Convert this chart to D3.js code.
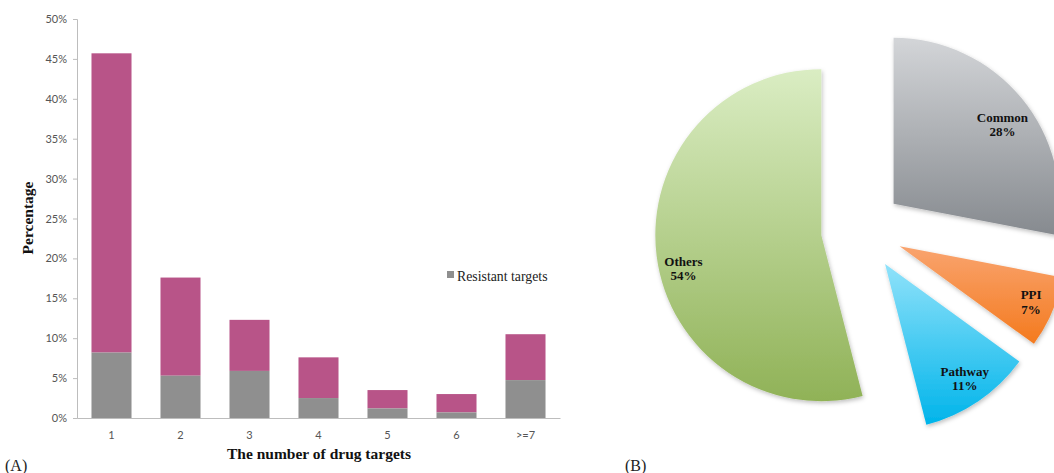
<!DOCTYPE html>
<html>
<head>
<meta charset="utf-8">
<script src="https://cdn.jsdelivr.net/npm/d3@7"></script>
<style>
  body { margin: 0; background: #fff; }
  svg { display: block; }
</style>
</head>
<body>
<script>
// bar chart data (A)
var categories = ["1", "2", "3", "4", "5", "6", ">=7"];
var totalPct = [45.7, 17.6, 12.3, 7.6, 3.5, 3.0, 10.5];
var resistantPct = [8.2, 5.3, 5.9, 2.5, 1.2, 0.7, 4.75];
var yTicks = [0, 5, 10, 15, 20, 25, 30, 35, 40, 45, 50];

// pie chart data (B)
var pieLabels = ["Common", "PPI", "Pathway", "Others"];
var pieValues = [28, 7, 11, 54];
var pieTop = ["#d3d5d8", "#f9a46f", "#90e2fa", "#daedc3"];
var pieBottom = ["#868a8f", "#f47a1e", "#00b4ea", "#90b257"];
// small nudges so data labels sit where the original put them
var labelNudge = [[1, 10], [3, 0], [1, -1], [1, 16]];

var width = 1054, height = 473;

var svg = d3.select("body").append("svg")
	.attr("width", width).attr("height", height);

var defs = svg.append("defs");

buildBars();
buildPie();

svg.append("text").attr("x", 5).attr("y", 471)
	.attr("font-family", "Liberation Serif").attr("font-size", 16)
	.attr("fill", "#222").text("(A)");
svg.append("text").attr("x", 625).attr("y", 471)
	.attr("font-family", "Liberation Serif").attr("font-size", 16)
	.attr("fill", "#222").text("(B)");

function buildBars() {
	var x = d3.scaleBand().domain(categories).range([77, 560]).paddingInner(0.42).paddingOuter(0.21);
	var y = d3.scaleLinear().domain([0, 50]).range([418, 19]);

	var g = svg.append("g");

	// y axis
	var yAxis = d3.axisLeft(y).tickValues(yTicks).tickSize(4).tickPadding(6)
		.tickFormat(function(d){ return d + "%"; });
	var ya = g.append("g").attr("transform", "translate(77,0)").call(yAxis);
	ya.select(".domain").attr("stroke", "#bdbdbd");
	ya.selectAll(".tick line").attr("stroke", "#bdbdbd");
	ya.selectAll(".tick text").attr("font-family", "Lato").attr("font-size", 11).attr("fill", "#555");

	// bars
	var data = categories.map(function(c, i){ return {c: c, t: totalPct[i], r: resistantPct[i]}; });

	g.selectAll(".top-bar").data(data).enter().append("rect")
		.attr("class", "top-bar")
		.attr("x", function(d){ return x(d.c); })
		.attr("width", x.bandwidth())
		.attr("y", function(d){ return y(d.t); })
		.attr("height", function(d){ return y(d.r) - y(d.t); })
		.attr("fill", "#b85488");

	g.selectAll(".res-bar").data(data).enter().append("rect")
		.attr("class", "res-bar")
		.attr("x", function(d){ return x(d.c); })
		.attr("width", x.bandwidth())
		.attr("y", function(d){ return y(d.r); })
		.attr("height", function(d){ return y(0) - y(d.r); })
		.attr("fill", "#8f8f8f");

	// x axis
	var xAxis = d3.axisBottom(x).tickSize(0).tickPadding(13);
	var xa = g.append("g").attr("transform", "translate(0,418)").call(xAxis);
	xa.select(".domain").attr("stroke", "#bdbdbd");
	xa.selectAll(".tick text").attr("font-family", "Lato").attr("font-size", 11).attr("fill", "#555");

	// titles
	g.append("text").attr("x", 319).attr("y", 459).attr("text-anchor", "middle")
		.attr("font-family", "Liberation Serif").attr("font-weight", "bold").attr("font-size", 15.5)
		.attr("fill", "#111").text("The number of drug targets");
	g.append("text").attr("transform", "translate(33,218) rotate(-90)").attr("text-anchor", "middle")
		.attr("font-family", "Liberation Serif").attr("font-weight", "bold").attr("font-size", 15.5)
		.attr("fill", "#111").text("Percentage");

	// legend
	g.append("rect").attr("x", 447).attr("y", 271).attr("width", 7).attr("height", 7).attr("fill", "#8f8f8f");
	g.append("text").attr("x", 457).attr("y", 281)
		.attr("font-family", "Liberation Serif").attr("font-size", 13.8)
		.attr("fill", "#222").text("Resistant targets");
}

function buildPie() {
	var cx = 862, cy = 230, R = 166, explode = 41;

	var pie = d3.pie().sort(null)(pieValues);
	var arc = d3.arc().innerRadius(0).outerRadius(R);

	var filt = defs.append("filter").attr("id", "shadow")
		.attr("x", "-10%").attr("y", "-10%").attr("width", "130%").attr("height", "130%");
	filt.append("feDropShadow").attr("dx", 1).attr("dy", 2).attr("stdDeviation", 2)
		.attr("flood-color", "#000").attr("flood-opacity", 0.25);

	pieValues.forEach(function(v, i) {
		var lg = defs.append("linearGradient").attr("id", "grad" + i)
			.attr("x1", 0).attr("y1", 0).attr("x2", 0).attr("y2", 1);
		lg.append("stop").attr("offset", "0%").attr("stop-color", pieTop[i]);
		lg.append("stop").attr("offset", "100%").attr("stop-color", pieBottom[i]);
	});

	var g = svg.append("g").attr("transform", "translate(" + cx + "," + cy + ")");

	var slices = g.selectAll(".slice").data(pie).enter().append("g")
		.attr("class", "slice")
		.attr("transform", function(d){
			var m = (d.startAngle + d.endAngle) / 2;
			return "translate(" + (Math.sin(m) * explode) + "," + (-Math.cos(m) * explode) + ")";
		});

	slices.append("path")
		.attr("d", arc)
		.attr("fill", function(d, i){ return "url(#grad" + i + ")"; })
		.attr("filter", "url(#shadow)");

	var lab = slices.append("text")
		.attr("text-anchor", "middle")
		.attr("font-family", "Liberation Serif").attr("font-weight", "bold").attr("font-size", 13)
		.attr("fill", "#111")
		.attr("transform", function(d, i){
			var m = (d.startAngle + d.endAngle) / 2;
			return "translate(" + (Math.sin(m) * 140 + labelNudge[i][0]) + "," + (-Math.cos(m) * 140 + labelNudge[i][1]) + ")";
		});
	lab.append("tspan").attr("x", 0).attr("dy", "-0.2em").text(function(d, i){ return pieLabels[i]; });
	lab.append("tspan").attr("x", 0).attr("dy", "1.1em").text(function(d, i){ return pieValues[i] + "%"; });
}
</script>
</body>
</html>
